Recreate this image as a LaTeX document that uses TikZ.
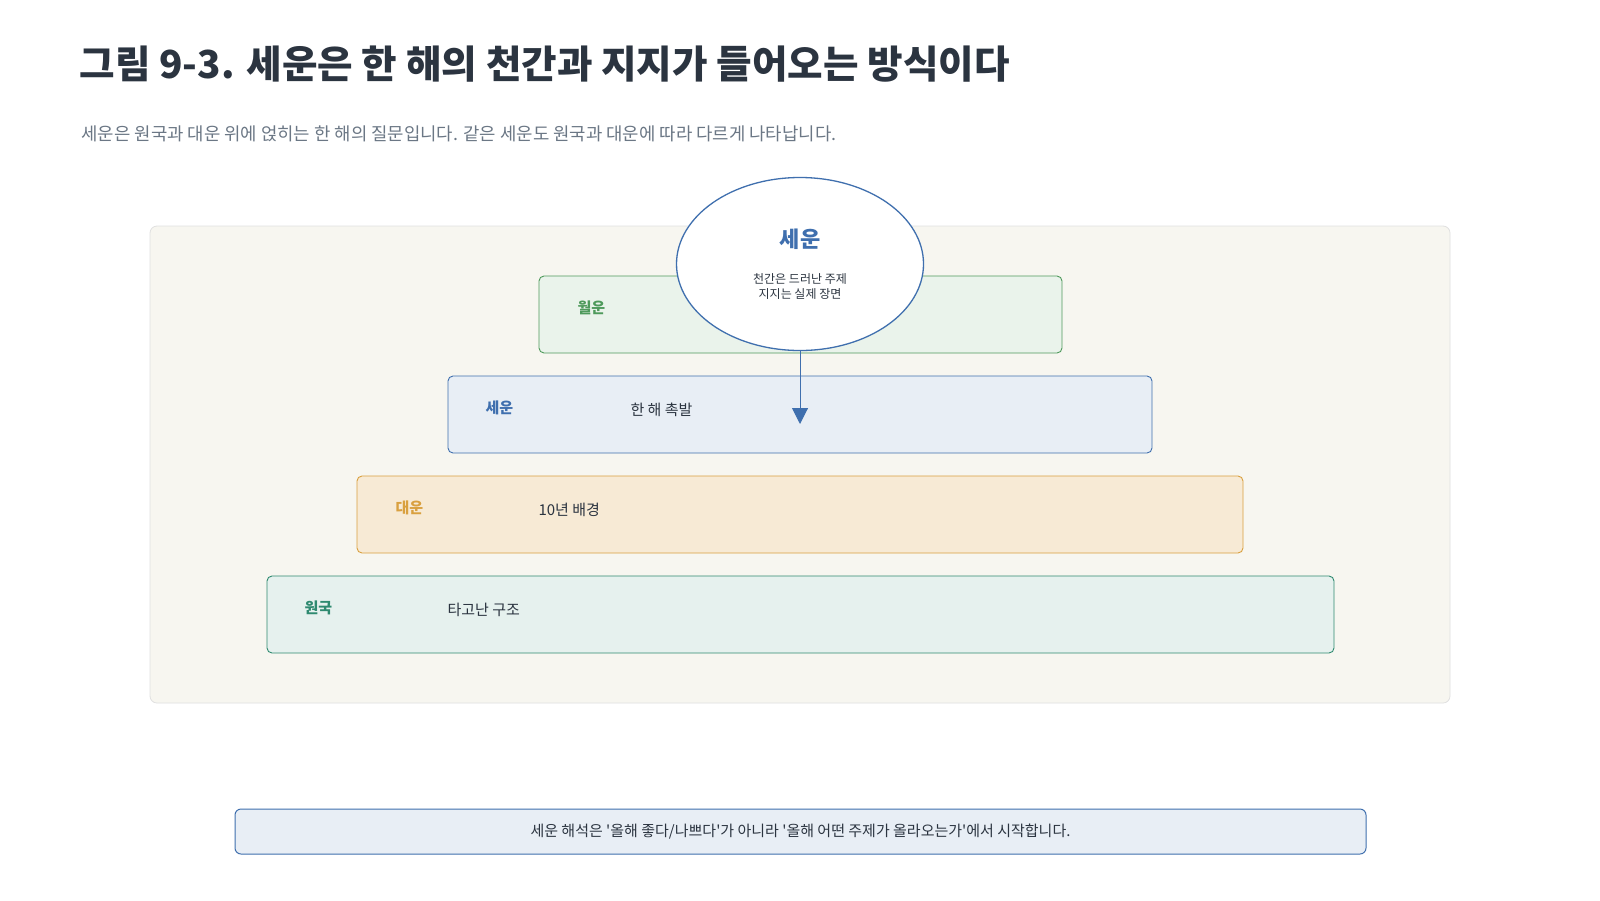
\documentclass[tikz,border=0pt]{standalone}
\usepackage{fontspec}
\setmainfont{Noto Sans CJK KR}
\newfontfamily\plainfont{Noto Sans CJK KR}
\usetikzlibrary{arrows.meta,shapes.geometric}
\definecolor{cblue}{HTML}{3F6FAE}
\definecolor{cgreen}{HTML}{4F9A5C}
\definecolor{corange}{HTML}{D9A03F}
\definecolor{cteal}{HTML}{2F8A70}
\definecolor{ctext}{HTML}{2B3440}
\definecolor{cgray}{HTML}{6B7785}
\definecolor{cpanel}{HTML}{F7F6F0}
\tikzset{
  layer/.style={draw, rounded corners=5pt, line width=0.9pt},
  lab/.style={anchor=west, font=\fontsize{15}{18}\selectfont\bfseries},
  txt/.style={anchor=west, text=ctext, font=\fontsize{15}{18}\selectfont}
}
\begin{document}
\begin{tikzpicture}[x=1pt,y=-1pt]
\useasboundingbox (0,0) rectangle (1600,900);
\fill[white] (0,0) rectangle (1600,900);
\node[anchor=west, text=ctext, font=\fontsize{38.6}{44}\selectfont\bfseries] (title) at (76,64) {그림 9-3. 세운은 한 해의 천간과 지지가 들어오는 방식이다};
\node[anchor=west, text=cgray, font=\fontsize{17.8}{20}\selectfont] (sub) at (78,134) {세운은 원국과 대운 위에 얹히는 한 해의 질문입니다. 같은 세운도 원국과 대운에 따라 다르게 나타납니다.};
\draw[draw=black!12, fill=cpanel, rounded corners=7pt, line width=0.8pt] (150,226) rectangle (1450,703);
\path[draw=cgreen, fill=cgreen!12, layer] (539,276) rectangle (1062,353);
\node[lab, text=cgreen] (l1) at (574,308) {월운};
\path[draw=cblue, fill=cblue!12, layer] (448,376) rectangle (1152,453);
\node[lab, text=cblue] (l2) at (482,408) {세운};
\node[txt] (t2) at (627,410) {한 해 촉발};
\path[draw=corange, fill=corange!22, layer] (357,476) rectangle (1243,553);
\node[lab, text=corange] (l3) at (392,508) {대운};
\node[txt] (t3) at (535,510) {10년 배경};
\path[draw=cteal, fill=cteal!12, layer] (267,576) rectangle (1334,653);
\node[lab, text=cteal] (l4) at (301,608) {원국};
\node[txt] (t4) at (444,610) {타고난 구조};
\node[draw=cblue, fill=white, ellipse, line width=1.3pt, minimum width=247pt, minimum height=173pt, inner sep=0pt] (e) at (800,264) {};
\node[text=cblue, font=\fontsize{22}{26}\selectfont\bfseries] (et) at (800,239) {세운};
\node[text=ctext, align=center, font=\fontsize{12}{15}\selectfont] (es) at (800,286) {천간은 드러난 주제\\지지는 실제 장면};
\coordinate (tip) at (800,424);
\draw[cblue, line width=1pt, -{Triangle[length=16pt,width=16pt]}] (e.south) -- (tip);
\node[draw=cblue, fill=cblue!12, rounded corners=6pt, line width=1pt, minimum width=1131pt, minimum height=45pt, text=ctext, font=\plainfont\fontsize{15}{18}\selectfont] (note) at (800.5,831.5) {세운 해석은 '올해 좋다/나쁘다'가 아니라 '올해 어떤 주제가 올라오는가'에서 시작합니다.};
\end{tikzpicture}
\end{document}
